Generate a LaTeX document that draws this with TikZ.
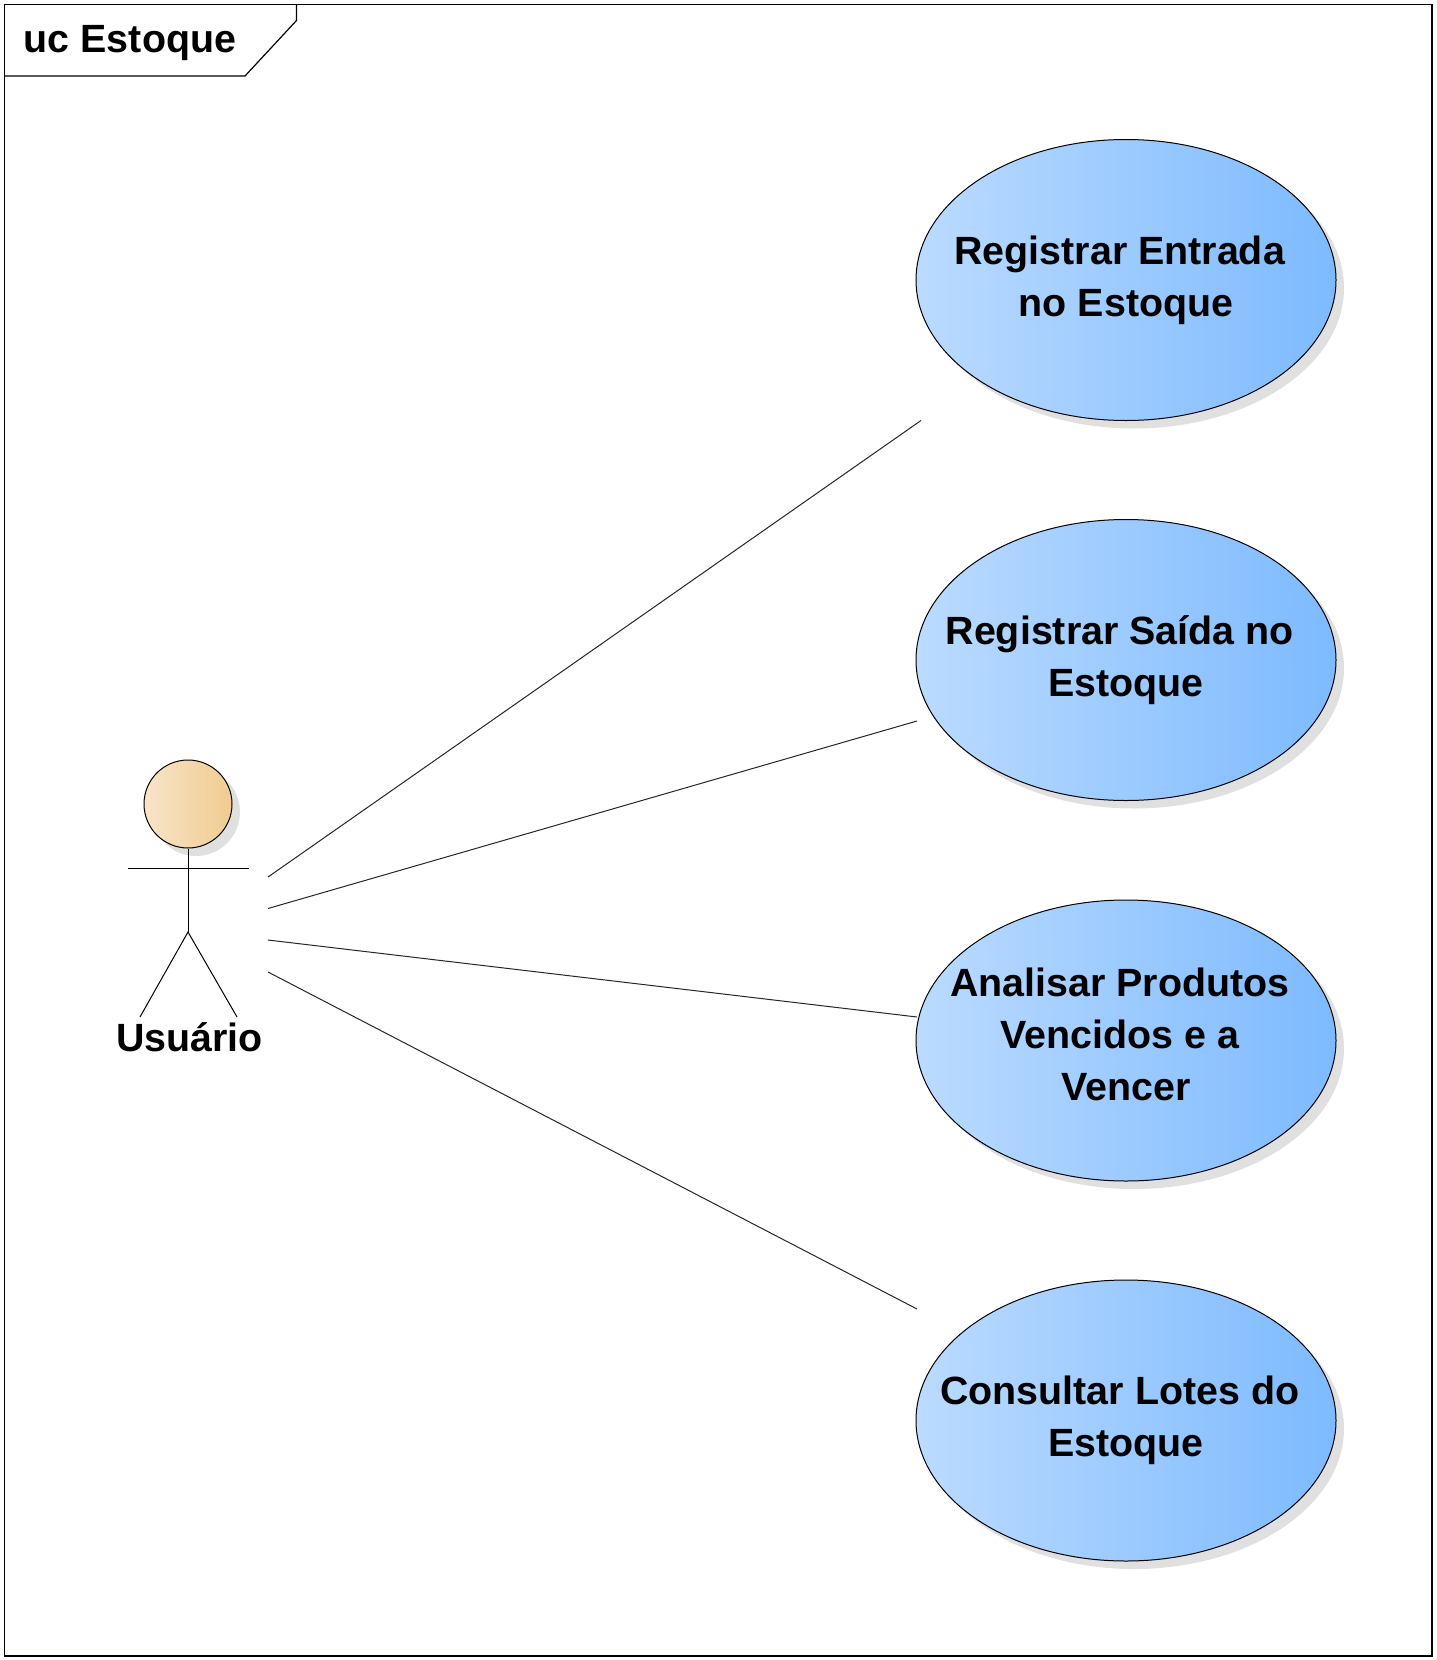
\documentclass[tikz,border=0pt]{standalone}
\usepackage{fontspec}
\setmainfont{Liberation Sans}
\usetikzlibrary{shapes.geometric,shadows}
\newcommand{\tsp}{\hspace*{.32em}}
\tikzset{
	umltext/.style={font=\fontsize{19.7}{26}\selectfont\bfseries,align=center,inner sep=0},
	usecase/.style={umltext,ellipse,inner sep=-25pt,draw=black,line width=.5,minimum width=210pt,minimum height=140.5pt,
		left color=blueL,right color=blueR,drop shadow={shadow xshift=4pt,shadow yshift=-4pt,fill=shadowgray,opacity=1}},
	actorhead/.style={circle,draw=black,line width=.5,minimum size=44pt,inner sep=0,
		left color=tanL,right color=tanR,drop shadow={shadow xshift=4pt,shadow yshift=-4pt,fill=shadowgray,opacity=1}},
	thinline/.style={line width=.5,draw=black!85}
}
\definecolor{blueL}{HTML}{BBDBFF}
\definecolor{blueR}{HTML}{7DBAFF}
\definecolor{tanL}{HTML}{F8E4C8}
\definecolor{tanR}{HTML}{F0CC90}
\definecolor{shadowgray}{HTML}{E0E0E0}
\begin{document}
\begin{tikzpicture}[x=.5pt,y=-.5pt]
	\useasboundingbox (0,0) rectangle (1436,1660);
	\draw[line width=.6] (4.5,4.5) rectangle (1432,1656);
	\draw[line width=.6] (4.5,76)--(245,76)--(296.5,20.5)--(296.5,4.5);
	\node[umltext] (title) at (130,43) {uc Estoque};
	% use cases
	\node[usecase] (entrada) at (1126,280) {Registrar Entrada\tsp\\no Estoque};
	\node[usecase] (saida) at (1126,660) {Registrar Saída no\tsp\\Estoque};
	\node[usecase,text depth=6.4pt] (vencidos) at (1126,1040.5) {Analisar Produtos\tsp\\Vencidos e a\tsp\tsp\\Vencer};
	\node[usecase] (lotes) at (1126,1420.5) {Consultar Lotes do\tsp\\Estoque};
	% actor
	\node[actorhead] (head) at (188,804) {};
	\coordinate (armL) at (128,868);
	\coordinate (armR) at (249,868);
	\coordinate (hip) at (188,932);
	\coordinate (footL) at (140,1017);
	\coordinate (footR) at (237,1017);
	\draw[line width=.5] (head.south)--(hip);
	\draw[line width=.5] (armL)--(armR);
	\draw[line width=.5] (footL)--(hip)--(footR);
	\node[umltext] (usuario) at (189.5,1037.5) {Usuário};
	% associations
	\coordinate (a1) at (268,877);
	\coordinate (a2) at (268,908.5);
	\coordinate (a3) at (268,940);
	\coordinate (a4) at (268,972);
	\coordinate (e1) at (921,420.5);
	\coordinate (e2) at (917,721);
	\coordinate (e3) at (917,1017);
	\coordinate (e4) at (917,1309);
	\draw[thinline] (a1)--(e1);
	\draw[thinline] (a2)--(e2);
	\draw[thinline] (a3)--(e3);
	\draw[thinline] (a4)--(e4);
\end{tikzpicture}
\end{document}
